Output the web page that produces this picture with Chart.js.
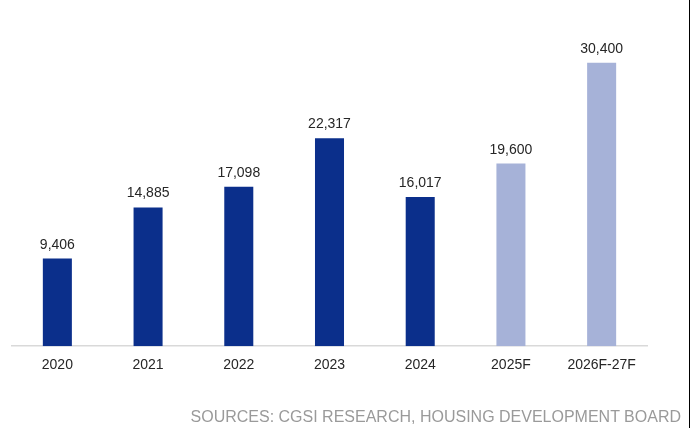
<!DOCTYPE html>
<html>
<head>
<meta charset="utf-8">
<script src="https://cdn.jsdelivr.net/npm/chart.js@4.4.0/dist/chart.umd.min.js"></script>
<style>
  html, body { margin: 0; padding: 0; background: #fff; }
  #wrap { position: relative; width: 700px; height: 428px; overflow: hidden; }
  #edge { position: absolute; left: 689px; top: 0; width: 1px; height: 428px; background: #000; }
  #source {
    position: absolute; right: 19px; top: 408px;
    font: 16px Arial, "Liberation Sans", sans-serif; color: #9a9a9a;
    white-space: nowrap;
  }
</style>
</head>
<body>
<div id="wrap">
  <canvas id="barChart" width="700" height="428"></canvas>
  <div id="edge"></div>
  <div id="source">SOURCES: CGSI RESEARCH, HOUSING DEVELOPMENT BOARD</div>
</div>
<script>
  const years = ['2020', '2021', '2022', '2023', '2024', '2025F', '2026F-27F'];
  const completions = [9406, 14885, 17098, 22317, 16017, 19600, 30400];
  const forecast = [false, false, false, false, false, true, true];

  const actualColor = '#0b2f8b';
  const forecastColor = '#a6b2d8';
  const fontFamily = 'Arial, "Liberation Sans", sans-serif';

  // Draws the figure above each bar
  const valueLabels = {
    id: 'valueLabels',
    afterDatasetsDraw(chart) {
      const ctx = chart.ctx;
      const meta = chart.getDatasetMeta(0);
      ctx.save();
      ctx.font = '14px ' + fontFamily;
      ctx.fillStyle = '#262626';
      ctx.textAlign = 'center';
      ctx.textBaseline = 'alphabetic';
      meta.data.forEach((bar, i) => {
        ctx.fillText(completions[i].toLocaleString('en-US'), bar.x, bar.y - 10);
      });
      ctx.restore();
    }
  };

  const ctx = document.getElementById('barChart').getContext('2d');
  const barChart = new Chart(ctx, {
    type: 'bar',
    data: {
      labels: years,
      datasets: [{
        data: completions,
        backgroundColor: forecast.map(f => f ? forecastColor : actualColor),
        borderWidth: 0,
        categoryPercentage: 1,
        barPercentage: 0.32
      }]
    },
    options: {
      responsive: false,
      animation: false,
      layout: {
        padding: { left: 12, right: 53, top: 20, bottom: 43 }
      },
      plugins: {
        legend: { display: false },
        tooltip: { enabled: false }
      },
      scales: {
        x: {
          grid: { display: false, drawTicks: false },
          border: { display: true, color: '#d9d9d9', width: 1.5 },
          ticks: {
            padding: 11,
            color: '#262626',
            font: { family: fontFamily, size: 14 }
          }
        },
        y: {
          display: false,
          min: 0,
          max: 35000
        }
      }
    },
    plugins: [valueLabels]
  });
</script>
</body>
</html>
